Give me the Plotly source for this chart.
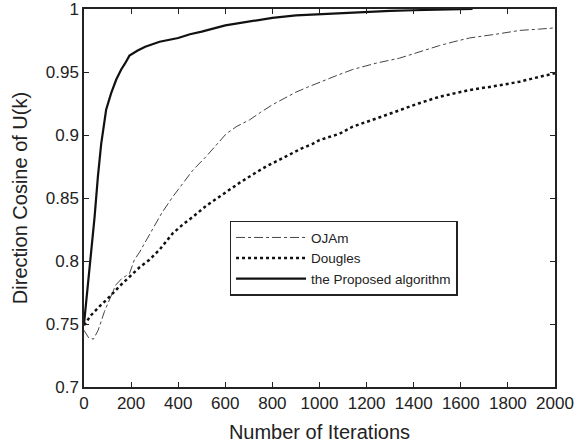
import plotly.graph_objects as go

# Proposed algorithm
prop_x = [0, 10, 20, 30, 37, 45, 59, 73, 94, 115, 137, 158, 175, 193, 228, 260,
          321, 350, 400, 450, 500, 600, 700, 800, 900, 1000, 1100, 1200, 1300, 1400, 1500, 1650]
prop_y = [0.750, 0.768, 0.786, 0.803, 0.815, 0.835, 0.867, 0.893, 0.920, 0.933, 0.944, 0.952,
          0.957, 0.963, 0.967, 0.970, 0.974, 0.975, 0.977, 0.980, 0.982, 0.987, 0.990,
          0.993, 0.995, 0.996, 0.997, 0.998, 0.9985, 0.999, 0.9995, 1.0]

# OJAm
oja_x = [0, 20, 40, 60, 87, 110, 135, 160, 193, 214, 236, 260, 292, 330, 377, 420, 462, 519,
         560, 604, 650, 703, 750, 800, 850, 900, 950, 1000, 1070, 1141, 1240, 1340, 1420, 1510,
         1570, 1637, 1750, 1850, 1930, 2000]
oja_y = [0.745, 0.739, 0.738, 0.745, 0.760, 0.770, 0.781, 0.786, 0.790, 0.801, 0.807, 0.815,
         0.825, 0.838, 0.851, 0.862, 0.872, 0.883, 0.892, 0.901, 0.907, 0.912, 0.918, 0.924,
         0.929, 0.934, 0.938, 0.942, 0.947, 0.952, 0.957, 0.961, 0.966, 0.971, 0.974, 0.977,
         0.980, 0.983, 0.984, 0.985]

# Dougles
dou_x = [0, 30, 66, 100, 151, 208, 236, 278, 321, 377, 420, 462, 520, 575, 620, 660, 720, 773,
         858, 920, 971, 1000, 1085, 1141, 1240, 1340, 1420, 1510, 1570, 1637, 1750, 1850, 1930, 2000]
dou_y = [0.749, 0.757, 0.764, 0.770, 0.780, 0.790, 0.795, 0.801, 0.809, 0.822, 0.829, 0.835,
         0.844, 0.851, 0.857, 0.862, 0.869, 0.875, 0.883, 0.889, 0.893, 0.896, 0.901, 0.9066,
         0.913, 0.9198, 0.925, 0.9304, 0.933, 0.9357, 0.939, 0.9423, 0.946, 0.949]

x_ticks = [0, 200, 400, 600, 800, 1000, 1200, 1400, 1600, 1800, 2000]
y_ticks = [0.7, 0.75, 0.8, 0.85, 0.9, 0.95, 1.0]
y_labels = ["0.7", "0.75", "0.8", "0.85", "0.9", "0.95", "1"]

fig = go.Figure()
fig.add_trace(go.Scatter(x=oja_x, y=oja_y, mode="lines", name="OJAm",
                         line=dict(color="#444444", width=1, dash="dashdot")))
fig.add_trace(go.Scatter(x=dou_x, y=dou_y, mode="lines", name="Dougles",
                         line=dict(color="#111111", width=2.5, dash="dot")))
fig.add_trace(go.Scatter(x=prop_x, y=prop_y, mode="lines", name="the Proposed algorithm",
                         line=dict(color="#111111", width=2.2)))

font = "Liberation Sans, Arial, sans-serif"
fig.update_layout(
    width=580, height=447,
    margin=dict(l=84, r=25, t=9, b=60),
    paper_bgcolor="white", plot_bgcolor="white",
    font=dict(family=font, color="#222222"),
    legend=dict(x=0.309, y=0.44, xanchor="left", yanchor="top",
                bordercolor="#222222", borderwidth=1.5, bgcolor="white",
                font=dict(size=13.5, family=font), itemwidth=70,
                tracegroupgap=0),
)
fig.update_xaxes(range=[0, 2000], tickvals=x_ticks, ticks="inside", ticklen=5,
                 tickcolor="#222222", showline=True, linecolor="#222222", linewidth=1.5,
                 mirror="ticks", showgrid=False, zeroline=False, automargin=False,
                 ticklabeloverflow="allow",
                 tickfont=dict(size=17, family=font),
                 title=dict(text="Number of Iterations", font=dict(size=20, family=font), standoff=13))
fig.update_yaxes(range=[0.7, 1.0], tickvals=y_ticks, ticktext=y_labels, ticks="inside", ticklen=5,
                 tickcolor="#222222", showline=True, linecolor="#222222", linewidth=1.5,
                 mirror="ticks", showgrid=False, zeroline=False, automargin=False,
                 ticklabeloverflow="allow",
                 tickfont=dict(size=17, family=font),
                 title=dict(text="Direction Cosine of U(k)", font=dict(size=20, family=font), standoff=13))

fig.write_html("out.html")
